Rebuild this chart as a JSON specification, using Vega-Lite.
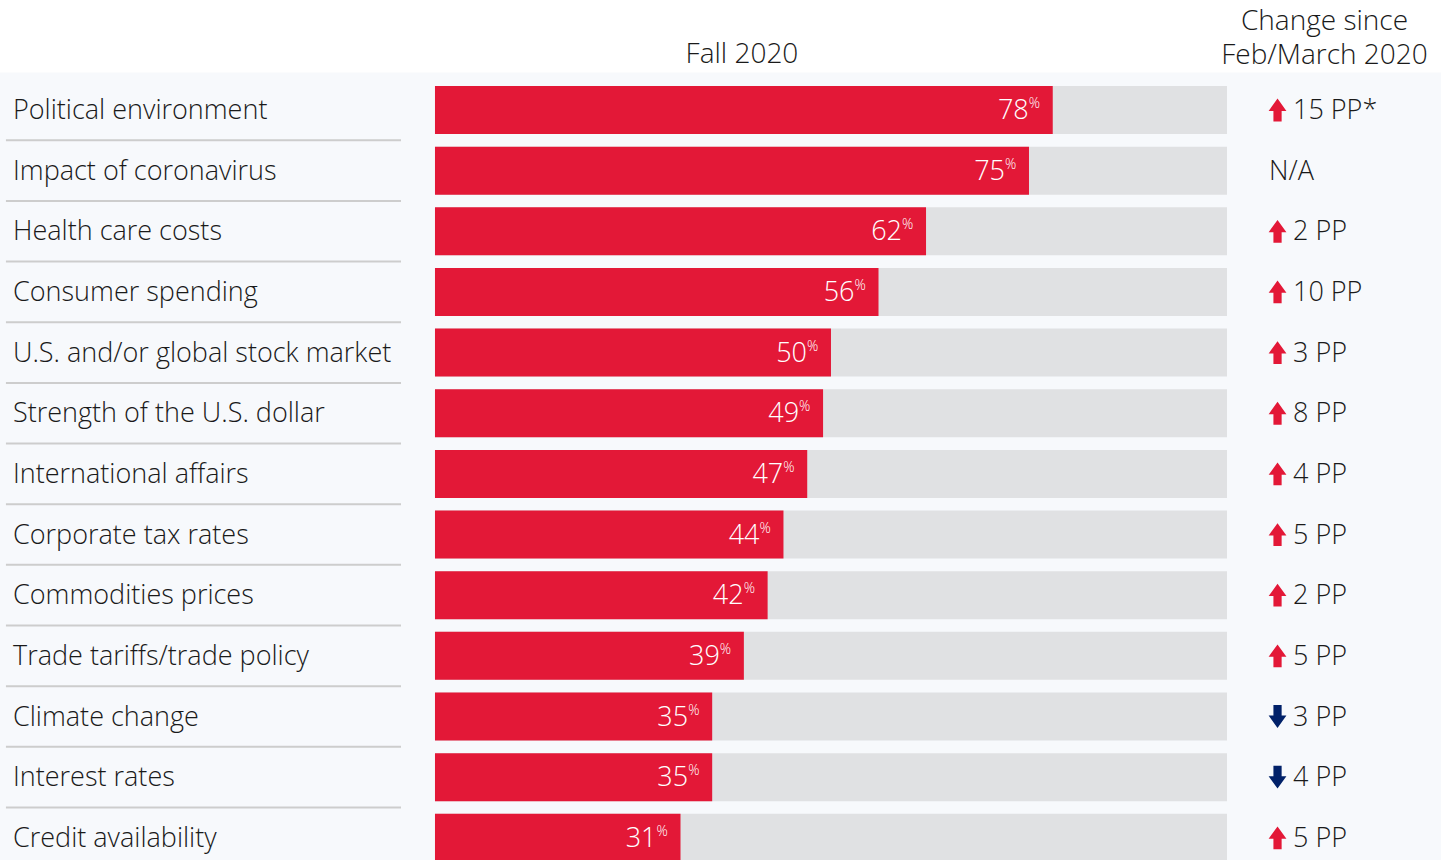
{
  "$schema": "https://vega.github.io/schema/vega-lite/v6.json",
  "width": 1441,
  "height": 860,
  "autosize": {"type": "none"},
  "padding": 0,
  "background": "#ffffff",
  "config": {"view": {"stroke": null}, "text": {"font": "Open Sans", "fontWeight": 300}},
  "datasets": {
    "rows": [
      {"i": 0, "label": "Political environment", "pct": 78, "dir": "up", "change": "15 PP*"},
      {"i": 1, "label": "Impact of coronavirus", "pct": 75, "dir": "none", "change": "N/A"},
      {"i": 2, "label": "Health care costs", "pct": 62, "dir": "up", "change": "2 PP"},
      {"i": 3, "label": "Consumer spending", "pct": 56, "dir": "up", "change": "10 PP"},
      {"i": 4, "label": "U.S. and/or global stock market", "pct": 50, "dir": "up", "change": "3 PP"},
      {"i": 5, "label": "Strength of the U.S. dollar", "pct": 49, "dir": "up", "change": "8 PP"},
      {"i": 6, "label": "International affairs", "pct": 47, "dir": "up", "change": "4 PP"},
      {"i": 7, "label": "Corporate tax rates", "pct": 44, "dir": "up", "change": "5 PP"},
      {"i": 8, "label": "Commodities prices", "pct": 42, "dir": "up", "change": "2 PP"},
      {"i": 9, "label": "Trade tariffs/trade policy", "pct": 39, "dir": "up", "change": "5 PP"},
      {"i": 10, "label": "Climate change", "pct": 35, "dir": "down", "change": "3 PP"},
      {"i": 11, "label": "Interest rates", "pct": 35, "dir": "down", "change": "4 PP"},
      {"i": 12, "label": "Credit availability", "pct": 31, "dir": "up", "change": "5 PP"}
    ],
    "heads": [
      {"t": "Fall 2020", "hx": 38.76, "hy": -0.9},
      {"t": "Change since\nFeb/March 2020", "hx": 112.31, "hy": -1.445}
    ]
  },
  "data": {"name": "rows"},
  "encoding": {
    "y": {"field": "i", "type": "quantitative", "axis": null,
          "scale": {"domain": [-1.8137, 12.366], "reverse": true, "nice": false, "zero": false, "padding": 0}}
  },
  "layer": [
    {
      "mark": {"type": "rect", "color": "#f7f9fc"},
      "transform": [{"filter": "datum.i === 0"}],
      "encoding": {
        "x": {"datum": -54.92, "type": "quantitative", "axis": null,
              "scale": {"domain": [-54.92, 127.02], "nice": false, "zero": false, "padding": 0}},
        "x2": {"datum": 127.02},
        "y": {"datum": -0.62, "type": "quantitative"},
        "y2": {"datum": 12.366}
      }
    },
    {
      "transform": [{"filter": "datum.i < 12"}],
      "mark": {"type": "rule", "color": "#cdcdcd", "strokeWidth": 2, "yOffset": 30.3},
      "encoding": {
        "x": {"datum": -54.17, "type": "quantitative"},
        "x2": {"datum": -4.29}
      }
    },
    {
      "mark": {"type": "bar", "orient": "horizontal", "height": 48, "color": "#e0e1e3"},
      "encoding": {
        "x": {"datum": 0, "type": "quantitative"},
        "x2": {"datum": 100}
      }
    },
    {
      "mark": {"type": "bar", "orient": "horizontal", "height": 48, "color": "#e31837"},
      "encoding": {
        "x": {"field": "pct", "type": "quantitative"},
        "x2": {"datum": 0}
      }
    },
    {
      "mark": {"type": "text", "align": "right", "baseline": "middle", "dx": -24, "dy": 1, "fontSize": 27, "color": "#ffffff"},
      "encoding": {
        "x": {"field": "pct", "type": "quantitative"},
        "text": {"field": "pct", "type": "quantitative"}
      }
    },
    {
      "mark": {"type": "text", "align": "left", "baseline": "middle", "dx": -24, "dy": -6, "fontSize": 14, "color": "#ffffff", "text": "%"},
      "encoding": {
        "x": {"field": "pct", "type": "quantitative"}
      }
    },
    {
      "mark": {"type": "text", "align": "left", "baseline": "middle", "dy": 1, "fontSize": 27, "color": "#1a1a1a"},
      "encoding": {
        "x": {"datum": -53.28, "type": "quantitative"},
        "text": {"field": "label"}
      }
    },
    {
      "transform": [{"filter": "datum.dir !== 'none'"}],
      "mark": {"type": "point", "filled": true, "opacity": 1, "size": 520},
      "encoding": {
        "x": {"datum": 106.38, "type": "quantitative"},
        "color": {"field": "dir", "type": "nominal", "legend": null,
                  "scale": {"domain": ["up", "down"], "range": ["#e31837", "#012169"]}},
        "shape": {"field": "dir", "type": "nominal", "legend": null,
                  "scale": {"domain": ["up", "down"], "range": [
                    "M0,-1L0.78,0.08L0.36,0.08L0.36,1L-0.36,1L-0.36,0.08L-0.78,0.08Z",
                    "M0,1L0.78,-0.08L0.36,-0.08L0.36,-1L-0.36,-1L-0.36,-0.08L-0.78,-0.08Z"]}}
      }
    },
    {
      "transform": [{"filter": "datum.dir !== 'none'"}],
      "mark": {"type": "text", "align": "left", "baseline": "middle", "dy": 1, "fontSize": 27, "color": "#1a1a1a"},
      "encoding": {
        "x": {"datum": 108.33, "type": "quantitative"},
        "text": {"field": "change"}
      }
    },
    {
      "transform": [{"filter": "datum.dir === 'none'"}],
      "mark": {"type": "text", "align": "left", "baseline": "middle", "dy": 1, "fontSize": 27, "color": "#1a1a1a"},
      "encoding": {
        "x": {"datum": 105.3, "type": "quantitative"},
        "text": {"field": "change"}
      }
    },
    {
      "data": {"name": "heads"},
      "mark": {"type": "text", "align": "center", "baseline": "middle", "fontSize": 28, "lineHeight": 34, "lineBreak": "\n", "color": "#1a1a1a"},
      "encoding": {
        "x": {"field": "hx", "type": "quantitative"},
        "y": {"field": "hy", "type": "quantitative"},
        "text": {"field": "t"}
      }
    }
  ]
}
